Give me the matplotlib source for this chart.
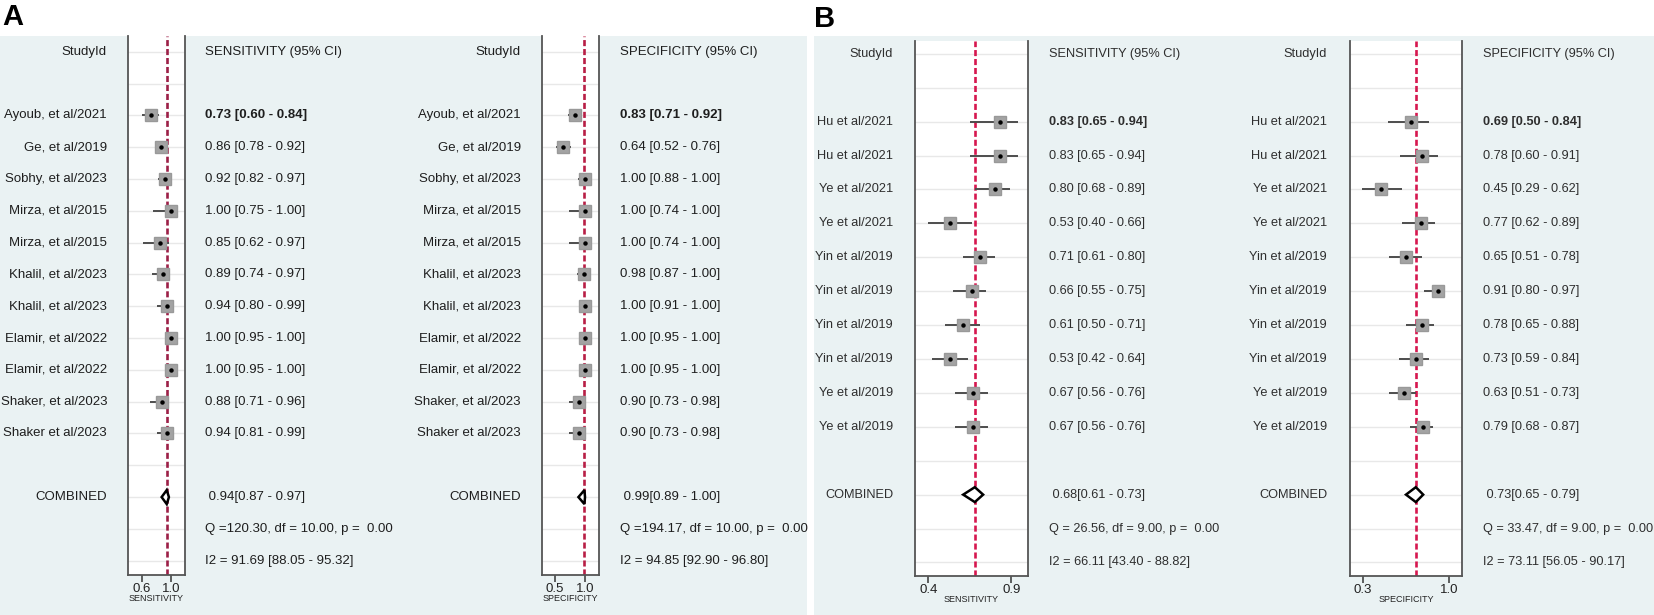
import numpy as np
import matplotlib
matplotlib.use("Agg")
import matplotlib.pyplot as plt
from matplotlib.transforms import blended_transform_factory
from matplotlib.patches import Rectangle

plt.rcParams['font.family'] = ['Liberation Sans', 'DejaVu Sans']

# ---------------- data ----------------
studies_A = ["Ayoub, et al/2021", "Ge, et al/2019", "Sobhy, et al/2023", "Mirza, et al/2015",
             "Mirza, et al/2015", "Khalil, et al/2023", "Khalil, et al/2023", "Elamir, et al/2022",
             "Elamir, et al/2022", "Shaker, et al/2023", "Shaker et al/2023"]
sens_A = [0.73, 0.86, 0.92, 1.00, 0.85, 0.89, 0.94, 1.00, 1.00, 0.88, 0.94]
sens_A_lo = [0.60, 0.78, 0.82, 0.75, 0.62, 0.74, 0.80, 0.95, 0.95, 0.71, 0.81]
sens_A_hi = [0.84, 0.92, 0.97, 1.00, 0.97, 0.97, 0.99, 1.00, 1.00, 0.96, 0.99]
spec_A = [0.83, 0.64, 1.00, 1.00, 1.00, 0.98, 1.00, 1.00, 1.00, 0.90, 0.90]
spec_A_lo = [0.71, 0.52, 0.88, 0.74, 0.74, 0.87, 0.91, 0.95, 0.95, 0.73, 0.73]
spec_A_hi = [0.92, 0.76, 1.00, 1.00, 1.00, 1.00, 1.00, 1.00, 1.00, 0.98, 0.98]
comb_sens_A = (0.94, 0.87, 0.97)
comb_spec_A = (0.99, 0.89, 1.00)
stats_sens_A = ["Q =120.30, df = 10.00, p =  0.00", "I2 = 91.69 [88.05 - 95.32]"]
stats_spec_A = ["Q =194.17, df = 10.00, p =  0.00", "I2 = 94.85 [92.90 - 96.80]"]

studies_B = ["Hu et al/2021", "Hu et al/2021", "Ye et al/2021", "Ye et al/2021", "Yin et al/2019",
             "Yin et al/2019", "Yin et al/2019", "Yin et al/2019", "Ye et al/2019", "Ye et al/2019"]
sens_B = [0.83, 0.83, 0.80, 0.53, 0.71, 0.66, 0.61, 0.53, 0.67, 0.67]
sens_B_lo = [0.65, 0.65, 0.68, 0.40, 0.61, 0.55, 0.50, 0.42, 0.56, 0.56]
sens_B_hi = [0.94, 0.94, 0.89, 0.66, 0.80, 0.75, 0.71, 0.64, 0.76, 0.76]
spec_B = [0.69, 0.78, 0.45, 0.77, 0.65, 0.91, 0.78, 0.73, 0.63, 0.79]
spec_B_lo = [0.50, 0.60, 0.29, 0.62, 0.51, 0.80, 0.65, 0.59, 0.51, 0.68]
spec_B_hi = [0.84, 0.91, 0.62, 0.89, 0.78, 0.97, 0.88, 0.84, 0.73, 0.87]
comb_sens_B = (0.68, 0.61, 0.73)
comb_spec_B = (0.73, 0.65, 0.79)
stats_sens_B = ["Q = 26.56, df = 9.00, p =  0.00", "I2 = 66.11 [43.40 - 88.82]"]
stats_spec_B = ["Q = 33.47, df = 9.00, p =  0.00", "I2 = 73.11 [56.05 - 90.17]"]

W, H = 1654, 615
BG = '#EAF2F3'
fig = plt.figure(figsize=(W / 100, H / 100), dpi=100)

# panel backgrounds (behind everything)
fig.patches.append(Rectangle((0, 0), 807 / W, 1 - 36 / H, transform=fig.transFigure,
                             facecolor=BG, edgecolor='none', zorder=-10))
fig.patches.append(Rectangle((814 / W, 0), (W - 814) / W, 1 - 36 / H, transform=fig.transFigure,
                             facecolor=BG, edgecolor='none', zorder=-10))
fig.text(2 / W, 1 - 3 / H, "A", fontsize=21, fontweight='bold', va='top', ha='left')
fig.text(814 / W, 1 - 5 / H, "B", fontsize=21, fontweight='bold', va='top', ha='left')


def forest(studies, est, lo, hi, comb, stats, label_x, box, value_x, xlim, ticks,
           top, bottom, pad, what, redc, fs=9.5, txtc='#1E1E1E'):
    x0, x1 = box
    ax = fig.add_axes([x0 / W, 1 - bottom / H, (x1 - x0) / W, (bottom - top) / H])
    ax.set_facecolor('white')
    # rows: 0 header, 1 blank, studies, blank, combined, Q, I2
    n = len(studies)
    rows_st = np.arange(2, 2 + n)
    r_comb = 2 + n + 1
    r_q, r_i = r_comb + 1, r_comb + 2
    ax.set_ylim(r_i + pad[1], -pad[0])
    ax.set_xlim(*xlim)
    for r in range(r_i + 1):
        ax.axhline(r, color='#E8E8E8', lw=1, zorder=1)
    ax.axvline(comb[0], color=redc, lw=1.9, dashes=(2.3, 1.1), zorder=2)
    for r, e, l, h in zip(rows_st, est, lo, hi):
        ax.plot([l, h], [r, r], color='#4D4D4D', lw=1.4, zorder=3, solid_capstyle='butt')
        ax.plot(e, r, marker='s', ms=8.3, color='#A3A3A3', mec='#999999', zorder=4)
        ax.plot(e, r, marker='o', ms=2.2, color='black', zorder=5)
    dh = 0.22
    ax.fill([comb[1], comb[0], comb[2], comb[0]], [r_comb, r_comb - dh, r_comb, r_comb + dh],
            facecolor='white', edgecolor='black', lw=1.8, zorder=6)
    for s in ['left', 'right', 'bottom']:
        ax.spines[s].set_color('#555555')
        ax.spines[s].set_linewidth(1.3)
    ax.spines['top'].set_visible(False)
    ax.set_yticks([])
    ax.set_xticks(ticks)
    ax.set_xticklabels(["%.1f" % t for t in ticks])
    ax.tick_params(axis='x', length=5, width=1.2, color='#444444', labelsize=9.5, pad=1,
                   labelcolor='#222222')
    ax.set_xlabel(what, fontsize=6.5, labelpad=-1, color='#222222')

    tr = blended_transform_factory(fig.transFigure, ax.transData)
    ax.text(label_x / W, 0, "StudyId", transform=tr, ha='right', va='center', fontsize=fs, color=txtc)
    ax.text(value_x / W, 0, what + " (95% CI)", transform=tr, ha='left', va='center', fontsize=fs, color=txtc)
    for k, (r, name, e, l, h) in enumerate(zip(rows_st, studies, est, lo, hi)):
        ax.text(label_x / W, r, name, transform=tr, ha='right', va='center', fontsize=fs, color=txtc)
        ax.text(value_x / W, r, "%.2f [%.2f - %.2f]" % (e, l, h), transform=tr, ha='left', va='center',
                fontsize=fs, color=txtc, fontweight='bold' if k == 0 else 'normal')
    ax.text(label_x / W, r_comb, "COMBINED", transform=tr, ha='right', va='center', fontsize=fs, color=txtc)
    ax.text(value_x / W, r_comb, " %.2f[%.2f - %.2f]" % comb, transform=tr, ha='left', va='center',
            fontsize=fs, color=txtc)
    ax.text(value_x / W, r_q, stats[0], transform=tr, ha='left', va='center', fontsize=fs, color=txtc)
    ax.text(value_x / W, r_i, stats[1], transform=tr, ha='left', va='center', fontsize=fs, color=txtc)
    return ax


# panel A: box from y=36 to 575
forest(studies_A, sens_A, sens_A_lo, sens_A_hi, comb_sens_A, stats_sens_A,
       107, (128, 185), 205, (0.41, 1.19), [0.6, 1.0], 36, 575, (0.5, 0.45), "SENSITIVITY", '#9C1F47')
forest(studies_A, spec_A, spec_A_lo, spec_A_hi, comb_spec_A, stats_spec_A,
       521, (542, 599), 620, (0.283, 1.233), [0.5, 1.0], 36, 575, (0.5, 0.45), "SPECIFICITY", '#B81E45')

# panel B: box from y=41 to 576
forest(studies_B, sens_B, sens_B_lo, sens_B_hi, comb_sens_B, stats_sens_B,
       893, (915, 1028), 1049, (0.32, 1.0), [0.4, 0.9], 41, 576, (0.38, 0.4), "SENSITIVITY", '#D6174F',
       fs=9.2, txtc='#2E2E2E')
forest(studies_B, spec_B, spec_B_lo, spec_B_hi, comb_spec_B, stats_spec_B,
       1327, (1350, 1462), 1483, (0.194, 1.106), [0.3, 1.0], 41, 576, (0.38, 0.4), "SPECIFICITY", '#D6174F',
       fs=9.2, txtc='#2E2E2E')

fig.savefig("out.png", dpi=100, facecolor='white')
